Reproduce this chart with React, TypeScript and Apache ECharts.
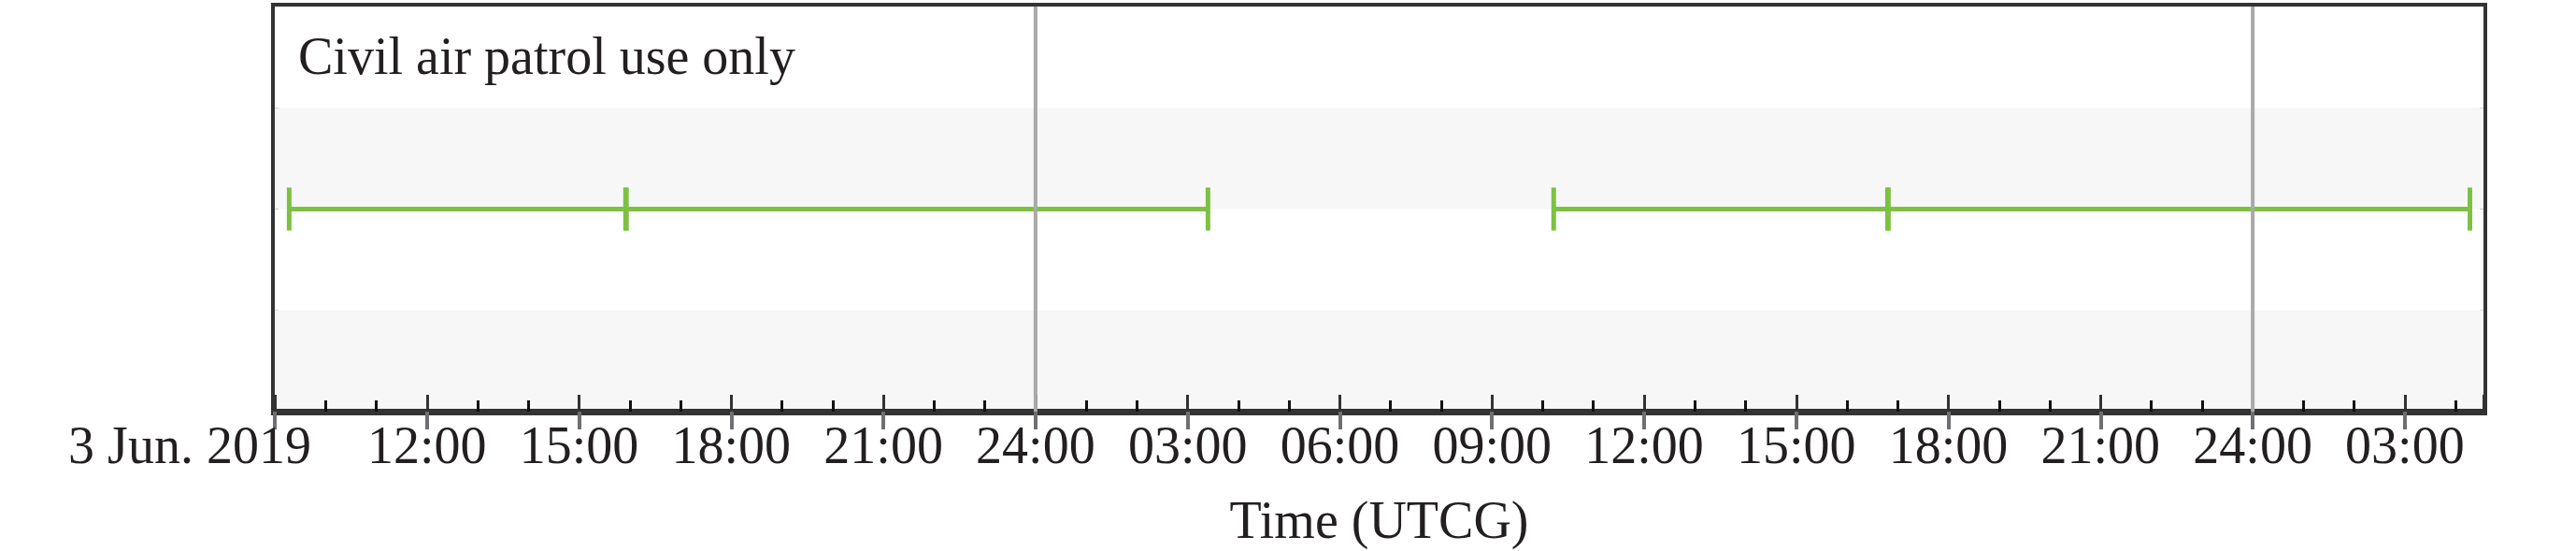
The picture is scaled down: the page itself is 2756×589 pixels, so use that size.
import React, { useEffect, useRef } from "react";
import * as echarts from "echarts";

// ---- data ----
const baseDay = "2019-06-03";
const axisStart = "2019-06-03 09:00";
const axisEnd = "2019-06-05 04:33";
const intervalStarts = ["2019-06-03 09:17", "2019-06-03 15:56", "2019-06-04 10:13", "2019-06-04 16:49"];
const intervalEnds = ["2019-06-03 15:55", "2019-06-04 03:24", "2019-06-04 16:48", "2019-06-05 04:17"];
const dayBoundaries = ["2019-06-04 00:00", "2019-06-05 00:00"];
const rowLevel = 2;
const titleText = "Civil air patrol use only";
const firstTickLabel = "3 Jun. 2019";
const axisTitle = "Time (UTCG)";

const FONT = "'Liberation Serif', 'Times New Roman', serif";
const TEXT = "#231f20";
const GREEN = "#7dc142";

function toHours(s: string): number {
  const [d, t] = s.split(" ");
  const [Y, M, D] = d.split("-").map(Number);
  const [h, m] = t.split(":").map(Number);
  const [bY, bM, bD] = baseDay.split("-").map(Number);
  return (Date.UTC(Y, M - 1, D, h, m) - Date.UTC(bY, bM - 1, bD)) / 3600000;
}

export default function App() {
  const ref = useRef<HTMLDivElement>(null);
  useEffect(() => {
    if (!ref.current) return;
    const chart = echarts.init(ref.current, null, { renderer: "svg" });
    const minH = toHours(axisStart);
    const maxH = toHours(axisEnd);
    const intervals = intervalStarts.map((s, i) => [toHours(s), toHours(intervalEnds[i]), rowLevel]);
    const bounds = dayBoundaries.map((s) => [toHours(s)]);

    const fmt = (v: number) => {
      if (Math.abs(v - minH) < 1e-6) return "{d|" + firstTickLabel + "}";
      const r = v % 3;
      if (Math.abs(r) > 1e-6 && Math.abs(r - 3) > 1e-6) return "";
      const h = Math.round(v) % 24;
      return h === 0 ? "24:00" : (h < 10 ? "0" : "") + h + ":00";
    };

    chart.setOption({
      animation: false,
      title: {
        text: titleText,
        left: 314,
        top: 27,
        textStyle: { fontFamily: FONT, fontSize: 56, fontWeight: "normal", color: TEXT },
      },
      grid: {
        left: 294,
        right: 99,
        top: 7,
        bottom: 147,
        show: true,
        borderColor: "#333",
        borderWidth: 8,
        backgroundColor: "transparent",
      },
      xAxis: [
        {
          type: "value",
          position: "bottom",
          min: minH,
          max: maxH,
          interval: 3,
          name: axisTitle,
          nameLocation: "middle",
          nameGap: 88,
          nameTextStyle: { fontFamily: FONT, fontSize: 56, color: TEXT },
          axisLine: { show: true, lineStyle: { color: "#333", width: 6 } },
          axisTick: { show: true, inside: false, length: 19, lineStyle: { color: "#6d6f73", width: 4 } },
          axisLabel: {
            show: true,
            margin: 8,
            fontFamily: FONT,
            fontSize: 56,
            color: TEXT,
            showMaxLabel: false,
            formatter: fmt,
            rich: {
              d: { fontFamily: FONT, fontSize: 56, color: TEXT, padding: [0, 182, 0, 0] },
            },
          },
          splitLine: { show: false },
        },
        {
          type: "value",
          position: "bottom",
          min: minH,
          max: maxH,
          interval: 1,
          axisLine: { show: false },
          axisTick: { show: true, inside: true, length: 12, lineStyle: { color: "#111", width: 3 } },
          axisLabel: { show: false },
          splitLine: { show: false },
        },
        {
          type: "value",
          position: "bottom",
          min: minH,
          max: maxH,
          interval: 3,
          axisLine: { show: false },
          axisTick: { show: true, inside: true, length: 18, lineStyle: { color: "#333", width: 3 } },
          axisLabel: { show: false },
          splitLine: { show: false },
        },
      ],
      yAxis: {
        type: "value",
        min: 0,
        max: 4,
        interval: 1,
        axisLine: { show: false },
        axisTick: { show: false },
        axisLabel: { show: false },
        splitLine: { show: false },
        splitArea: { show: true, areaStyle: { color: ["#f7f7f7", "#ffffff"] } },
      },
      series: [
        {
          type: "custom",
          xAxisIndex: 0,
          yAxisIndex: 0,
          z: 3,
          data: intervals,
          encode: { x: [0, 1], y: 2 },
          renderItem: (params: any, api: any) => {
            const p0 = api.coord([api.value(0), api.value(2)]);
            const p1 = api.coord([api.value(1), api.value(2)]);
            return {
              type: "group",
              children: [
                {
                  type: "line",
                  shape: { x1: p0[0], y1: p0[1], x2: p1[0], y2: p1[1] },
                  style: { stroke: GREEN, lineWidth: 5 },
                },
                {
                  type: "rect",
                  shape: { x: p0[0] - 2.5, y: p0[1] - 23, width: 5, height: 46 },
                  style: { fill: GREEN },
                },
                {
                  type: "rect",
                  shape: { x: p1[0] - 2.5, y: p1[1] - 23, width: 5, height: 46 },
                  style: { fill: GREEN },
                },
              ],
            };
          },
        },
        {
          type: "custom",
          xAxisIndex: 0,
          yAxisIndex: 0,
          z: 5,
          data: bounds,
          encode: { x: 0 },
          renderItem: (params: any, api: any) => {
            const top = api.coord([api.value(0), 4]);
            const bot = api.coord([api.value(0), 0]);
            return {
              type: "line",
              shape: { x1: top[0], y1: top[1], x2: bot[0], y2: bot[1] },
              style: { stroke: "#a9a9a9", lineWidth: 4 },
            };
          },
        },
      ],
    });
    return () => chart.dispose();
  }, []);
  return (
    <div
      ref={ref}
      style={{ position: "fixed", left: 0, top: 0, width: "2756px", height: "589px", background: "#fff" }}
    />
  );
}
